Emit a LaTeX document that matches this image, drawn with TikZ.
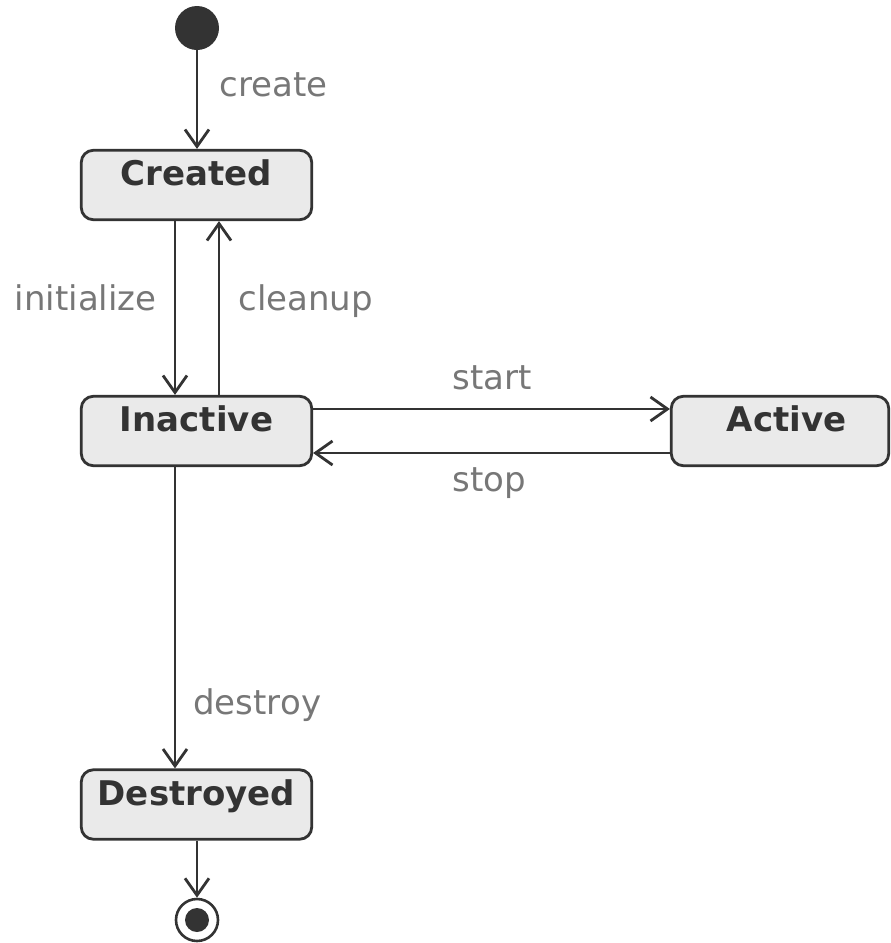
\documentclass[tikz,border=0pt]{standalone}
\usepackage{fontspec}
\setmainfont{DejaVu Sans}
\usetikzlibrary{arrows.meta}
\definecolor{ink}{HTML}{333333}
\definecolor{boxfill}{HTML}{EAEAEA}
\definecolor{labelgray}{HTML}{777777}

\begin{document}
\begin{tikzpicture}[x=1pt,y=-1pt,
  statebox/.style={draw=ink, fill=boxfill, line width=2.8pt, rounded corners=12pt,
    minimum width=230.4pt, minimum height=69.4pt, inner sep=0pt},
  statename/.style={font=\fontsize{34}{40}\selectfont\bfseries, text=ink,
    inner sep=0pt, anchor=base, yshift=-37pt},
  trans/.style={draw=ink, line width=2.8pt,
    -{Straight Barb[length=17pt,width=24pt,line width=2.8pt]}},
  tlabel/.style={font=\fontsize{34}{40}\selectfont, text=labelgray, inner sep=0pt},
]
\useasboundingbox (0,0) rectangle (891,943);

% states
\node[statebox, label={[statename]north:Created}] (created) at (196.5,185) {};
\node[statebox, label={[statename]north:Inactive}] (inactive) at (196.5,431) {};
\node[statebox, minimum width=217.4pt,
      label={[statename, xshift=6.5pt]north:Active}] (active) at (780,431) {};
\node[statebox, label={[statename]north:Destroyed}] (destroyed) at (196.5,804.5) {};

% pseudo states
\node[circle, fill=ink, minimum size=44pt, inner sep=0pt] (init) at (197,28) {};
\node[circle, draw=ink, fill=white, line width=2.6pt, minimum size=42pt,
      inner sep=0pt] (final) at (197,920) {};
\fill[ink] (final.center) circle (12pt);

% transitions
\draw[trans] (init) -- (created.north -| init)
  node[tlabel, pos=0.47, anchor=base west, xshift=21pt] {create};
\draw[trans] ([xshift=-21.5pt]created.south) -- ([xshift=-21.5pt]inactive.north)
  node[tlabel, pos=0.517, anchor=base east, xshift=-17pt] {initialize};
\draw[trans] ([xshift=22.5pt]inactive.north) -- ([xshift=22.5pt]created.south)
  node[tlabel, pos=0.483, anchor=base west, xshift=18pt] {cleanup};
\draw[trans] ([yshift=22pt]inactive.east) -- ([yshift=22pt]active.west)
  node[tlabel, pos=0.5, anchor=base west, xshift=-40.5pt, yshift=20pt] {start};
\draw[trans] ([yshift=-22pt]active.west) -- ([yshift=-22pt]inactive.east)
  node[tlabel, pos=0.5, anchor=base west, xshift=-40.5pt, yshift=-38pt] {stop};
\draw[trans] ([xshift=-21.5pt]inactive.south) -- ([xshift=-21.5pt]destroyed.north)
  node[tlabel, pos=0.821, anchor=base west, xshift=17pt] {destroy};
\draw[trans] (destroyed.south -| final) -- (final);
\end{tikzpicture}
\end{document}
